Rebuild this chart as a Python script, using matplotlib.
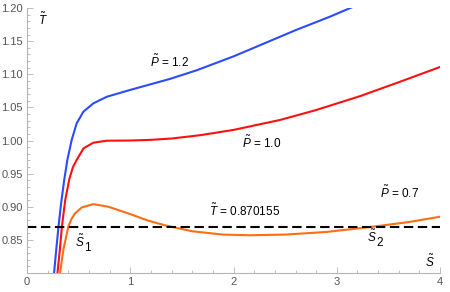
import matplotlib
matplotlib.use("Agg")
import matplotlib.pyplot as plt
from matplotlib.ticker import MultipleLocator

# curve points
s_p12 = [0.262, 0.283, 0.305, 0.33, 0.36, 0.391, 0.433, 0.481, 0.546, 0.642, 0.772, 0.991,
         1.2, 1.385, 1.643, 2.0, 2.289, 2.6, 2.935, 3.16]
t_p12 = [0.80, 0.835, 0.870, 0.905, 0.940, 0.971, 1.001, 1.026, 1.0435, 1.056, 1.066, 1.076,
         1.085, 1.093, 1.106, 1.127, 1.146, 1.1665, 1.187, 1.202]

s_p10 = [0.295, 0.318, 0.338, 0.37, 0.41, 0.445, 0.481, 0.546, 0.642, 0.772, 1.0, 1.2, 1.4,
         1.676, 2.0, 2.45, 2.8, 3.225, 3.6, 4.0]
t_p10 = [0.80, 0.835, 0.870, 0.910, 0.942, 0.960, 0.9706, 0.988, 0.9967, 0.9997, 1.000, 1.001, 1.003,
         1.008, 1.016, 1.031, 1.046, 1.067, 1.088, 1.111]

s_p07 = [0.32, 0.352, 0.40, 0.432, 0.465, 0.53, 0.642, 0.788, 0.981, 1.175, 1.337, 1.6, 1.9,
         2.16, 2.5, 2.9, 3.354, 3.7, 4.0]
t_p07 = [0.80, 0.835, 0.870, 0.882, 0.890, 0.899, 0.904, 0.900, 0.890, 0.879, 0.872, 0.863, 0.858,
         0.857, 0.858, 0.862, 0.870, 0.877, 0.885]

t_star = 0.870155

plt.rcParams['font.family'] = ['Liberation Sans', 'DejaVu Sans']
plt.rcParams['mathtext.fontset'] = 'custom'
plt.rcParams['mathtext.rm'] = 'Liberation Sans'
plt.rcParams['mathtext.it'] = 'Liberation Sans:italic'

fig = plt.figure(figsize=(4.5, 2.92), dpi=100)
ax = fig.add_axes([0.06, 0.065, 0.918, 0.9076])

ax.plot(s_p12, t_p12, color='#2a4cff', lw=1.5)
ax.plot(s_p10, t_p10, color='#ff1010', lw=1.5)
ax.plot(s_p07, t_p07, color='#ff6e14', lw=1.5)
ax.axhline(t_star, color='black', lw=1.5, dashes=(4.5, 2.2))

ax.set_xlim(0, 4)
ax.set_ylim(0.8, 1.2)

for side in ['top', 'right']:
    ax.spines[side].set_visible(False)
for side in ['left', 'bottom']:
    ax.spines[side].set_color('#b5b5b5')
    ax.spines[side].set_linewidth(0.8)

ax.xaxis.set_major_locator(MultipleLocator(1))
ax.xaxis.set_minor_locator(MultipleLocator(0.2))
ax.yaxis.set_major_locator(MultipleLocator(0.05))
ax.yaxis.set_minor_locator(MultipleLocator(0.01))
ax.tick_params(which='both', direction='in', color='#b5b5b5', labelcolor='#555555',
               labelsize=8, width=0.6)
ax.tick_params(which='major', length=4)
ax.tick_params(which='minor', length=2.2)
ax.tick_params(axis='x', pad=3)
ax.tick_params(axis='y', pad=3)
ax.set_xticks([0, 1, 2, 3, 4])
ax.set_xticklabels(['0', '1', '2', '3', '4'])
ax.set_yticks([0.80, 0.85, 0.90, 0.95, 1.00, 1.05, 1.10, 1.15, 1.20])
ax.set_yticklabels(['', '0.85', '0.90', '0.95', '1.00', '1.05', '1.10', '1.15', '1.20'])

fs = 8.5
ax.text(1.375, 1.1185, r'$\tilde{P}$ = 1.2', fontsize=fs, ha='center', va='center')
ax.text(2.276, 0.996, r'$\tilde{P}$ = 1.0', fontsize=fs, ha='center', va='center')
ax.text(2.111, 0.8936, r'$\tilde{T}$ = 0.870155', fontsize=fs, ha='center', va='center')
ax.text(3.603, 0.9208, r'$\tilde{P}$ = 0.7', fontsize=fs, ha='center', va='center')
# S1 / S2 with near full-size subscripts like the reference
ax.text(0.515, 0.8468, r'$\tilde{S}$', fontsize=fs, ha='center', va='center')
ax.text(0.588, 0.8377, '1', fontsize=fs, ha='center', va='center')
ax.text(3.338, 0.8543, r'$\tilde{S}$', fontsize=fs, ha='center', va='center')
ax.text(3.412, 0.8453, '2', fontsize=fs, ha='center', va='center')
ax.text(3.90, 0.8166, r'$\tilde{S}$', fontsize=fs, ha='center', va='center')
ax.text(0.155, 1.182, r'$\tilde{T}$', fontsize=fs, ha='center', va='center')

fig.savefig('out.png', dpi=100)
